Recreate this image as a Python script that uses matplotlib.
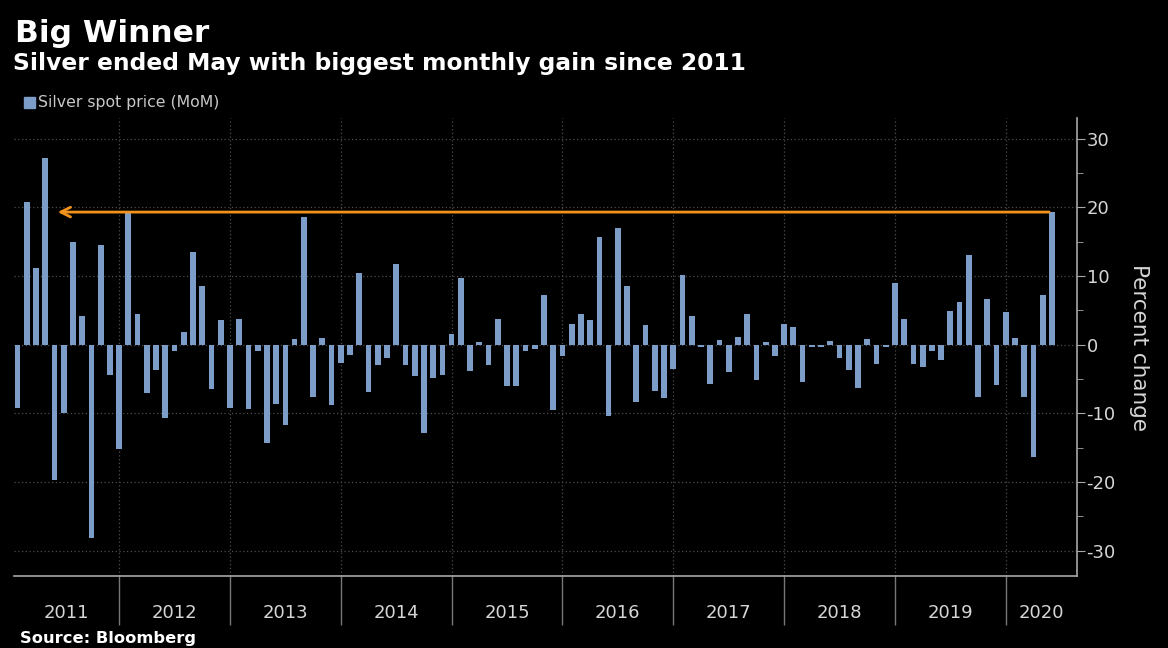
import numpy as np
import matplotlib.pyplot as plt

plt.rcParams['axes.unicode_minus'] = False
plt.rcParams['font.family'] = ['DejaVu Sans']

# silver spot price, month-on-month change in percent (Jan 2011 - May 2020)
years = [str(y) for y in range(2011, 2021)]
mom_2011 = [-9.2, 20.7, 11.1, 27.2, -19.7, -10.0, 14.9, 4.2, -28.1, 14.5, -4.4, -15.2]
mom_2012 = [19.2, 4.5, -7.1, -3.7, -10.7, -0.9, 1.8, 13.5, 8.6, -6.4, 3.6, -9.2]
mom_2013 = [3.7, -9.4, -0.9, -14.3, -8.6, -11.7, 0.8, 18.6, -7.7, 1.0, -8.8, -2.7]
mom_2014 = [-1.5, 10.5, -6.9, -2.9, -1.9, 11.8, -3.0, -4.5, -12.9, -4.8, -4.4, 1.5]
mom_2015 = [9.7, -3.8, 0.4, -3.0, 3.7, -6.1, -6.1, -1.0, -0.6, 7.2, -9.5, -1.7]
mom_2016 = [3.0, 4.5, 3.6, 15.7, -10.4, 17.0, 8.6, -8.3, 2.8, -6.7, -7.8, -3.5]
mom_2017 = [10.1, 4.2, -0.3, -5.7, 0.7, -4.0, 1.1, 4.5, -5.2, 0.4, -1.7, 3.0]
mom_2018 = [2.5, -5.4, -0.3, -0.3, 0.5, -1.9, -3.7, -6.3, 0.8, -2.8, -0.3, 9.0]
mom_2019 = [3.7, -2.8, -3.2, -1.0, -2.3, 4.9, 6.2, 13.0, -7.6, 6.6, -5.9, 4.8]
mom_2020 = [1.0, -7.7, -16.3, 7.2, 19.3]

mom = (mom_2011 + mom_2012 + mom_2013 + mom_2014 + mom_2015 + mom_2016
       + mom_2017 + mom_2018 + mom_2019 + mom_2020)
x = np.arange(len(mom))

bar_col = '#7d9dc9'
orange = '#f0921c'
axis_col = '#a8a8a8'
text_col = '#d6d6d6'

fig = plt.figure(figsize=(11.68, 6.48), dpi=100, facecolor='black')
ax = fig.add_axes([0.012, 0.1111, 0.910, 0.7068])
ax.set_facecolor('black')

ax.bar(x, mom, width=0.62, color=bar_col, zorder=3)
ax.set_xlim(-0.38, len(mom) + 1.7)
ax.set_ylim(-33.7, 33)

# arrow from the latest month back to April 2011
peak = int(np.argmax(mom_2011))
ax.annotate('', xy=(peak + 1.05, mom[-1]), xytext=(x[-1], mom[-1]),
            arrowprops=dict(arrowstyle='->,head_length=0.7,head_width=0.35',
                            color=orange, lw=2), zorder=4)

# y axis on the right
ax.yaxis.tick_right()
ax.set_yticks(range(-30, 31, 10))
ax.set_yticks(range(-25, 30, 10), minor=True)
ax.tick_params(axis='y', which='major', length=6, color=axis_col,
               labelcolor=text_col, labelsize=13, pad=1)
ax.tick_params(axis='y', which='minor', length=4, color=axis_col)

# year separators at each December bar, labels in between
seps = [12 * k + 11 for k in range(len(years) - 1)]
edges = [ax.get_xlim()[0]] + seps + [ax.get_xlim()[1]]
centers = [(a + b) / 2 for a, b in zip(edges[:-1], edges[1:])]
ax.set_xticks(seps)
ax.set_xticklabels([])
ax.set_xticks(centers, minor=True)
ax.set_xticklabels(years, minor=True)
ax.tick_params(axis='x', which='major', length=35, color='#777777', width=1)
ax.tick_params(axis='x', which='minor', length=0, labelcolor=text_col,
               labelsize=13, pad=20)

ax.grid(axis='both', which='major', linestyle=(0, (1, 2)), color='#4d4d4d', lw=0.9)
ax.set_axisbelow(True)

for side in ['top', 'left']:
    ax.spines[side].set_visible(False)
for side in ['right', 'bottom']:
    ax.spines[side].set_color(axis_col)
    ax.spines[side].set_linewidth(1.2)

fig.text(1139 / 1168, 0.463, 'Percent change', rotation=270, ha='center',
         va='center', color=text_col, fontsize=15.5)

fig.text(15 / 1168, 1 - 42 / 648, 'Big Winner', color='white', fontsize=22.5,
         fontweight='bold', va='baseline')
fig.text(13 / 1168, 1 - 70 / 648, 'Silver ended May with biggest monthly gain since 2011',
         color='white', fontsize=16.8, fontweight='bold', va='baseline')

fig.patches.append(plt.Rectangle((24 / 1168, 1 - 108 / 648), 11 / 1168, 11 / 648,
                                 transform=fig.transFigure, color=bar_col))
fig.text(38 / 1168, 1 - 103 / 648, 'Silver spot price (MoM)', color='#c8c8c8',
         fontsize=11.3, va='center')

fig.text(20 / 1168, 1 - 638 / 648, 'Source: Bloomberg', color='white',
         fontsize=11.7, fontweight='bold', va='center')

fig.savefig('out.png', dpi=100, facecolor='black')
